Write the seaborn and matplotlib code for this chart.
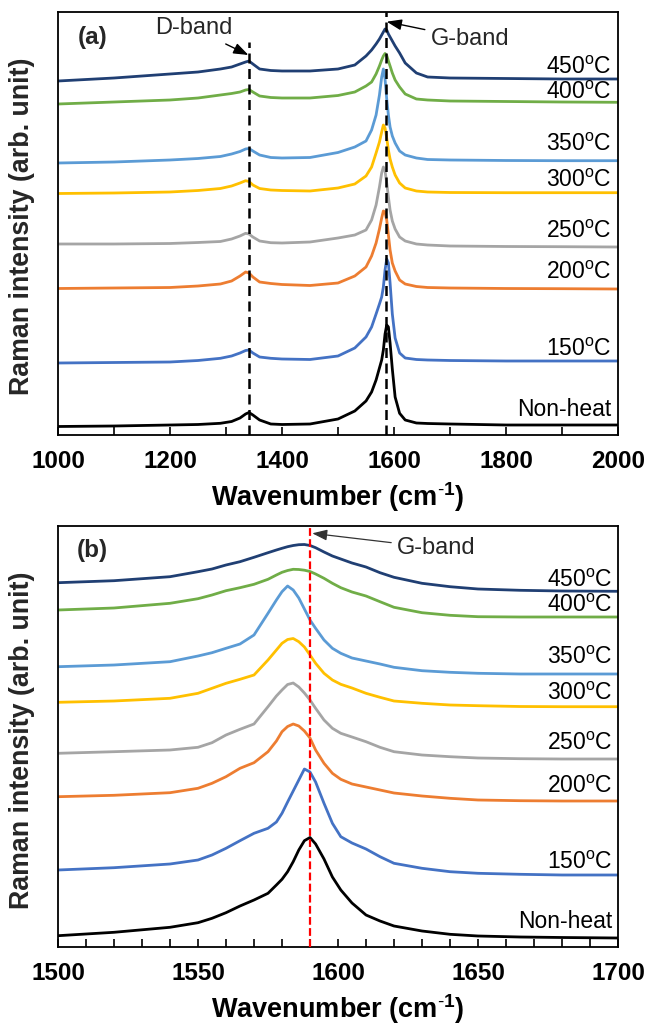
import matplotlib
matplotlib.use("Agg")
import matplotlib.pyplot as plt
import seaborn as sns
import pandas as pd
from matplotlib.ticker import MultipleLocator
from matplotlib.mathtext import MathTextParser

# ---------------- data ----------------
series_names = ["Non-heat", "150", "200", "250", "300", "350", "400", "450"]
series_colors = ["#000000", "#4472C4", "#ED7D31", "#A5A5A5", "#FFC000", "#5B9BD5", "#70AD47", "#203F73"]

# Panel (a): full spectra 1000-2000 cm-1 (offset intensities, arb. unit)
wn_a = [1000, 1100, 1200, 1250, 1290, 1310, 1325, 1335, 1341, 1348, 1360, 1380, 1400, 1450, 1500,
        1530, 1550, 1560, 1568, 1574, 1578, 1581, 1584, 1587, 1590, 1593, 1597, 1602, 1610, 1620,
        1640, 1660, 1700, 1800, 1900, 2000]
a_nonheat = [8.5, 9, 10, 10.5, 11.7, 13.5, 17, 21, 22.5, 20, 15, 11, 10.5, 11, 16,
             24, 34, 43, 55, 67, 75, 85, 101, 110, 108, 92, 66, 38, 21.7, 15,
             12, 11.5, 11, 10, 10, 10]
a_150 = [72, 72.5, 73, 74.5, 76.7, 79, 82, 84.5, 85, 82, 78, 76.7, 76, 75.5, 79,
         87, 98, 108, 121, 131, 138, 148, 165, 176, 172, 152, 121, 97, 82, 77,
         75.5, 75, 74.5, 74, 74, 74]
a_200 = [146.5, 147, 147.5, 149, 151, 154, 159, 163, 162, 158, 153, 151.5, 150.5, 149.5, 152,
         159, 168, 179, 192, 206, 217, 224, 223, 215, 200, 185, 172, 164, 155, 151,
         148.5, 147.5, 147, 146.5, 146.3, 146]
a_250 = [191, 191, 191.5, 192.5, 193.5, 196, 199, 201.7, 201, 198, 194, 192.3, 192, 193, 197,
         200, 205, 215, 230, 248, 262, 268, 264, 252, 238, 225, 214, 206, 198, 194,
         191, 190, 189, 188.5, 188.3, 188]
a_300 = [241.5, 242, 243, 244.5, 246.5, 249, 252, 254.3, 253.5, 250, 246.5, 245, 244.5, 244, 247,
         251, 259, 268, 282, 293, 303, 310, 307, 297, 285, 276, 268, 260, 252, 247,
         244, 243, 242.5, 242.3, 242.3, 242.3]
a_350 = [272, 273, 275, 276.5, 278.5, 281, 283.5, 286, 286.5, 284, 280, 277.5, 277, 277.5, 282.5,
         288, 294, 305, 320, 340, 358, 366, 356, 336, 320, 308, 299, 292, 284, 280,
         277, 275.5, 275, 274.5, 274.3, 274.3]
a_400 = [331, 333, 335, 337, 340, 341.5, 343, 345, 345.5, 343, 339, 337.5, 337, 337, 339.5,
         343, 349, 353, 361, 369, 375, 379, 381.5, 379.5, 374, 369, 362, 355, 348, 341,
         336, 335, 334, 333.5, 333, 332.7]
a_450 = [354, 357, 361, 363, 366, 368, 371, 373, 374, 371, 366, 364.5, 364, 364, 366,
         370, 379, 385, 391, 396, 400, 403, 406, 405, 401, 398, 394, 389, 382, 372,
         362, 358, 357, 356.5, 356, 356]

# Panel (b): G-band region 1500-1700 cm-1
wn_b = [1500, 1520, 1540, 1550, 1555, 1560, 1565, 1570, 1575, 1578, 1580, 1582, 1584, 1586, 1588,
        1590, 1592, 1595, 1598, 1601, 1605, 1610, 1615, 1620, 1630, 1640, 1650, 1665, 1680, 1700]
b_nonheat = [11.3, 14.7, 19.7, 24.3, 28.7, 34.3, 41, 47, 53.7, 62, 67.7, 75.3, 85.3, 97, 106.3,
             109.5, 103, 88, 70, 57, 44, 32, 26, 21, 16, 12.7, 11, 10, 9.5, 9]
b_150 = [77, 79.3, 83, 87, 92, 98.7, 106.3, 113.7, 118.7, 125, 133.7, 145, 156, 167, 178,
         175, 165, 143.7, 123.7, 110.3, 104, 98, 90.3, 83.7, 78.7, 75.3, 73.7, 72.7, 72, 72]
b_200 = [150.3, 151.7, 154.3, 158.7, 163.7, 170.3, 178.7, 184.3, 195.3, 206, 215.3, 220.5, 223, 221, 216,
         209, 197, 183.7, 173.7, 167.7, 163, 160, 157, 154, 151, 148.7, 147, 146.3, 146, 146]
b_250 = [193.7, 195.3, 197, 199.7, 204.3, 212, 217.7, 223, 240.3, 251, 257, 262.5, 264, 260, 254,
         247, 238.7, 227, 218.7, 213.7, 210, 205.3, 199.7, 195.3, 192, 190.3, 189, 188.3, 188, 188]
b_300 = [244.7, 246, 248.7, 253.7, 258.7, 263.7, 267.7, 272, 287, 297, 303.7, 307.5, 308.5, 305.3, 300,
         292, 283.7, 273.7, 267, 262.7, 259, 253.7, 249.7, 246, 243.7, 242, 241.3, 240.5, 240.3, 240.3]
b_350 = [280.3, 282, 285.3, 291, 294.3, 298.7, 303, 312, 333.7, 347, 355.3, 361, 357, 349, 338,
         327, 318.7, 307, 298.7, 293.7, 289, 286, 283, 279.7, 276.3, 274.7, 273.7, 273, 273, 273]
b_400 = [337, 339, 343.7, 348.3, 352, 356.3, 359.3, 362.7, 367.7, 372, 374.7, 376.5, 377.7, 377.5, 376.8,
         375.5, 373, 368.7, 363.7, 359.3, 355, 351, 345.3, 339.7, 334.3, 331.7, 330.3, 330, 330, 330]
b_450 = [364.3, 366.3, 370.3, 375.3, 378, 382, 385.3, 389.7, 394.3, 397, 398.7, 400.3, 401.5, 402.3, 402.5,
         401.5, 399.3, 395, 391, 388, 384, 380, 374.3, 369.7, 363.7, 360.3, 358, 356.7, 356, 355.7]

d_band_pos = 1341
g_band_pos_a = 1585
g_band_pos_b = 1590

series_a = [a_nonheat, a_150, a_200, a_250, a_300, a_350, a_400, a_450]
series_b = [b_nonheat, b_150, b_200, b_250, b_300, b_350, b_400, b_450]

# ---------------- style ----------------
sns.set_theme(style="white")
plt.rcParams["font.family"] = ["Liberation Sans", "DejaVu Sans"]
plt.rcParams["mathtext.fontset"] = "custom"
plt.rcParams["mathtext.rm"] = "Liberation Sans"
plt.rcParams["mathtext.it"] = "Liberation Sans:italic"
plt.rcParams["mathtext.bf"] = "Liberation Sans:bold"

# x-label with a plain hyphen in the superscript if mathtext supports \text
xlab = r"Wavenumber (cm$^{\mathbf{-1}}$)"
try:
    MathTextParser("agg").parse(r"$^{\mathbf{\text{-}1}}$", dpi=100)
    xlab = r"Wavenumber (cm$^{\mathbf{\text{-}1}}$)"
except Exception:
    pass

W, H = 649, 1027
fig = plt.figure(figsize=(W / 100, H / 100), dpi=100)
ax1 = fig.add_axes([58 / W, 1 - 435 / H, 560 / W, 423 / H])
ax2 = fig.add_axes([58 / W, 1 - 947 / H, 560 / W, 421 / H])


def label_text(name):
    if name == "Non-heat":
        return name
    return name + r"$^{\mathregular{o}}$C"


def draw_panel(ax, wn, series, xlim, ylim, major, minor, label_x, label_base):
    for name, vals, col in zip(series_names, series, series_colors):
        df = pd.DataFrame({"wn": wn, "I": vals})
        sns.lineplot(data=df, x="wn", y="I", ax=ax, color=col, lw=2.0, legend=False)
    for name, yb in zip(series_names, label_base):
        ax.text(label_x, yb, label_text(name), ha="right", va="baseline", fontsize=16.5, color="black")
    ax.set_xlim(*xlim)
    ax.set_ylim(*ylim)
    ax.xaxis.set_major_locator(MultipleLocator(major))
    ax.xaxis.set_minor_locator(MultipleLocator(minor))
    ax.set_yticks([])
    ax.tick_params(axis="x", which="both", direction="in", length=6, width=1.2,
                   bottom=True, top=False, colors="black", labelsize=17.5, pad=11)
    for lab in ax.get_xticklabels():
        lab.set_fontweight("bold")
    for sp in ax.spines.values():
        sp.set_visible(True)
        sp.set_color("black")
        sp.set_linewidth(1.3)
    ax.set_xlabel(xlab, fontsize=19.5, fontweight="bold", labelpad=5, color="black")
    ax.set_ylabel("")
    ax.grid(False)


draw_panel(ax1, wn_a, series_a, (1000, 2000), (0, 423), 200, 100, 1989,
           [19, 79, 156, 197, 248, 284, 336, 361])
draw_panel(ax2, wn_b, series_b, (1500, 1700), (0, 421), 50, 10, 1698,
           [19, 78, 154, 196.5, 246.5, 283, 335.5, 360])

# reference lines
ax1.plot([d_band_pos, d_band_pos], [0, 393], color="black", lw=1.8, ls=(0, (4, 2.2)), zorder=5)
ax1.axvline(g_band_pos_a, color="black", lw=1.8, ls=(0, (4, 2.2)), zorder=5)
ax2.axvline(g_band_pos_b, color="#FF0000", lw=1.6, ls=(0, (3.5, 1.5)), zorder=5)

arrow_kw = dict(arrowstyle="-|>,head_length=0.6,head_width=0.22", color="black", lw=1.0,
                mutation_scale=15, shrinkA=2, shrinkB=0)
ax1.text(1061, 397.5, "(a)", fontsize=17.5, fontweight="bold", ha="center", va="center")
ax1.annotate("D-band", xy=(1340, 380), xytext=(1242.5, 406.5), fontsize=17, ha="center", va="center",
             arrowprops=arrow_kw)
ax1.annotate("G-band", xy=(1587, 413.3), xytext=(1736, 396), fontsize=17, ha="center", va="center",
             arrowprops=arrow_kw)

arrow_kw2 = dict(arrowstyle="-|>,head_length=0.6,head_width=0.22", color="#333333", lw=0.9,
                 mutation_scale=15, shrinkA=2, shrinkB=0)
ax2.text(1512.3, 397, "(b)", fontsize=17.5, fontweight="bold", ha="center", va="center")
ax2.annotate("G-band", xy=(1590.8, 413.7), xytext=(1635.2, 399), fontsize=17, ha="center", va="center",
             arrowprops=arrow_kw2)

# y labels
fig.text(22 / W, 1 - 226 / H, "Raman intensity (arb. unit)", rotation=90, ha="center", va="center",
         fontsize=19.3, fontweight="bold")
fig.text(22 / W, 1 - 740 / H, "Raman intensity (arb. unit)", rotation=90, ha="center", va="center",
         fontsize=19.3, fontweight="bold")

fig.savefig("out.png", dpi=100, facecolor="white")
